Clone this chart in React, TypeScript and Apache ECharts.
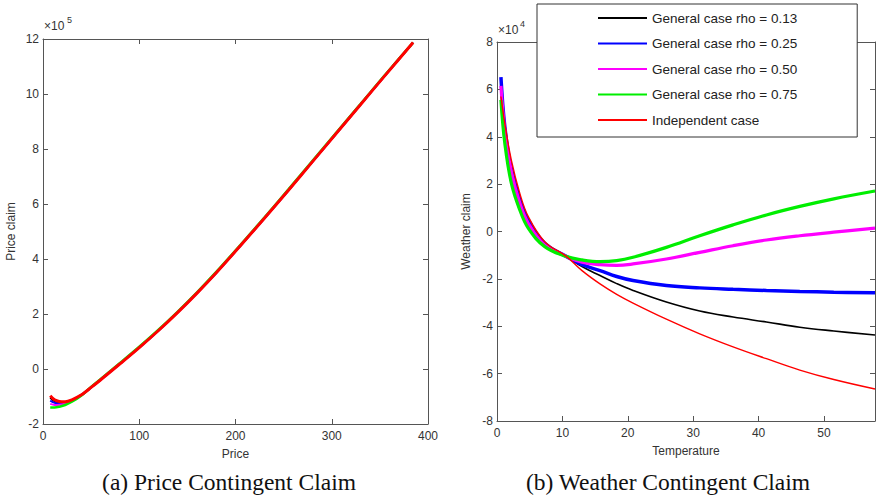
import React, { useEffect, useRef } from "react";
import * as echarts from "echarts";

// ---------- (a) Price contingent claim (values in units of 1e5) ----------
const priceX = [7.5, 12, 17, 23, 30, 40, 50, 60, 70, 80, 100, 120, 140, 160, 180, 205, 230, 255, 280, 305, 330, 355, 384.5];
const priceBlack = [-1.05, -1.17, -1.21, -1.21, -1.13, -0.94, -0.67, -0.39, -0.1, 0.19, 0.78, 1.4, 2.06, 2.76, 3.5, 4.48, 5.48, 6.5, 7.54, 8.58, 9.62, 10.66, 11.87];
const priceBlue = [-1.15, -1.23, -1.25, -1.23, -1.14, -0.94, -0.67, -0.39, -0.1, 0.19, 0.78, 1.4, 2.06, 2.76, 3.5, 4.48, 5.48, 6.5, 7.54, 8.58, 9.62, 10.66, 11.87];
const priceMagenta = [-1.27, -1.31, -1.3, -1.26, -1.16, -0.95, -0.67, -0.39, -0.1, 0.19, 0.78, 1.4, 2.06, 2.76, 3.5, 4.48, 5.48, 6.5, 7.54, 8.58, 9.62, 10.66, 11.87];
const priceGreen = [-1.4, -1.4, -1.37, -1.31, -1.19, -0.96, -0.65, -0.36, -0.07, 0.22, 0.81, 1.43, 2.09, 2.79, 3.53, 4.51, 5.51, 6.53, 7.57, 8.61, 9.64, 10.68, 11.87];
const priceRed = [-0.97, -1.12, -1.18, -1.19, -1.12, -0.94, -0.67, -0.39, -0.1, 0.19, 0.78, 1.4, 2.06, 2.76, 3.5, 4.48, 5.48, 6.5, 7.54, 8.58, 9.62, 10.66, 11.87];
const priceTicksX = [0, 100, 200, 300, 400];
const priceTicksY = [-2, 0, 2, 4, 6, 8, 10, 12];

// ---------- (b) Weather contingent claim (values in units of 1e4) ----------
const tempX = [0.6, 1.2, 2.2, 3.5, 4.8, 7.3, 10.65, 13, 15.75, 18.3, 20.8, 25.9, 31, 36.1, 41.2, 46.3, 51.5, 57.8];
const tempBlack = [5.9, 4.48, 2.8, 1.47, 0.55, -0.47, -1.06, -1.48, -1.86, -2.2, -2.49, -2.98, -3.36, -3.61, -3.82, -4.04, -4.2, -4.37];
const tempBlue = [6.52, 4.41, 2.59, 1.33, 0.48, -0.5, -1.06, -1.4, -1.65, -1.9, -2.07, -2.28, -2.38, -2.44, -2.49, -2.53, -2.56, -2.59];
const tempMagenta = [6.15, 4.27, 2.52, 1.19, 0.34, -0.57, -1.06, -1.3, -1.4, -1.43, -1.37, -1.16, -0.88, -0.6, -0.36, -0.18, -0.03, 0.14];
const tempGreen = [5.56, 3.71, 2.03, 0.9, 0.13, -0.64, -1.06, -1.2, -1.27, -1.23, -1.09, -0.67, -0.18, 0.28, 0.7, 1.06, 1.38, 1.71];
const tempRed = [5.7, 4.55, 3.0, 1.6, 0.62, -0.43, -1.06, -1.65, -2.21, -2.65, -3.02, -3.7, -4.32, -4.87, -5.37, -5.85, -6.25, -6.65];
const tempTicksX = [0, 10, 20, 30, 40, 50];
const tempTicksY = [-8, -6, -4, -2, 0, 2, 4, 6, 8];

const seriesNames = [
  "General case rho = 0.13",
  "General case rho = 0.25",
  "General case rho = 0.50",
  "General case rho = 0.75",
  "Independent case",
];
const seriesColors = ["#000000", "#0000ff", "#ff00ff", "#00ee00", "#ff0000"];

const pairs = (xs: number[], ys: number[]) => xs.map((x, i) => [x, ys[i]]);

const SANS = "Liberation Sans, Arial, Helvetica, sans-serif";
const AX = "#555";
const TXT = "#333";

export default function App() {
  const ref = useRef<HTMLDivElement>(null);
  useEffect(() => {
    if (!ref.current) return;
    const chart = echarts.init(ref.current, undefined, { renderer: "svg" });

    const axBase = (gridIndex: number, position: string, min: number, max: number, interval: number, show: boolean, extra: any = {}) => ({
      type: "value",
      gridIndex,
      position,
      min,
      max,
      interval,
      splitLine: { show: false },
      axisLine: { show: true, onZero: false, lineStyle: { color: AX, width: 1 } },
      axisTick: { show: true, inside: true, length: 5, lineStyle: { color: AX } },
      axisLabel: { show, color: TXT, fontSize: 12, fontFamily: SANS, margin: 6 },
      ...extra,
    });

    const priceSets = [priceBlack, priceBlue, priceMagenta, priceGreen, priceRed];
    const priceWidths = [2, 2, 2, 2.5, 3];
    const tempSets = [tempBlack, tempBlue, tempMagenta, tempGreen, tempRed];
    const tempWidths = [1.6, 3.5, 3.2, 3.2, 1.4];

    const series: any[] = [];
    priceSets.forEach((ys, i) => {
      series.push({
        name: seriesNames[i],
        type: "line",
        xAxisIndex: 0,
        yAxisIndex: 0,
        data: pairs(priceX, ys),
        symbol: "none",
        smooth: 0.3,
        lineStyle: { color: seriesColors[i], width: priceWidths[i] },
        itemStyle: { color: seriesColors[i] },
        z: 2 + i,
      });
    });
    tempSets.forEach((ys, i) => {
      series.push({
        name: seriesNames[i],
        type: "line",
        xAxisIndex: 2,
        yAxisIndex: 2,
        data: pairs(tempX, ys),
        symbol: "none",
        smooth: 0.4,
        lineStyle: { color: seriesColors[i], width: tempWidths[i] },
        itemStyle: { color: seriesColors[i] },
        z: 2 + i,
      });
    });

    chart.setOption({
      animation: false,
      backgroundColor: "#ffffff",
      grid: [
        { left: 43, top: 39, width: 385, height: 385, containLabel: false },
        { left: 497, top: 42, width: 378, height: 379, containLabel: false },
      ],
      xAxis: [
        axBase(0, "bottom", priceTicksX[0], priceTicksX[priceTicksX.length - 1], 100, true, {
          name: "Price",
          nameLocation: "middle",
          nameGap: 24,
          nameTextStyle: { color: TXT, fontSize: 12, fontFamily: SANS },
          axisLabel: { show: true, color: TXT, fontSize: 12, fontFamily: SANS, margin: 6 },
        }),
        axBase(0, "top", priceTicksX[0], priceTicksX[priceTicksX.length - 1], 100, false),
        axBase(1, "bottom", tempTicksX[0], 57.8, 10, true, {
          name: "Temperature",
          nameLocation: "middle",
          nameGap: 24,
          nameTextStyle: { color: TXT, fontSize: 12, fontFamily: SANS },
          axisLabel: {
            show: true,
            color: TXT,
            fontSize: 12,
            fontFamily: SANS,
            margin: 6,
            showMaxLabel: false,
            formatter: (v: number) => (tempTicksX.includes(v) ? String(v) : ""),
          },
        }),
        axBase(1, "top", tempTicksX[0], 57.8, 10, false),
      ],
      yAxis: [
        axBase(0, "left", priceTicksY[0], priceTicksY[priceTicksY.length - 1], 2, true, {
          name: "Price claim",
          nameLocation: "middle",
          nameGap: 26,
          nameRotate: 90,
          nameTextStyle: { color: TXT, fontSize: 12, fontFamily: SANS },
          axisLabel: { show: true, color: TXT, fontSize: 12, fontFamily: SANS, margin: 4 },
        }),
        axBase(0, "right", priceTicksY[0], priceTicksY[priceTicksY.length - 1], 2, false),
        axBase(1, "left", tempTicksY[0], tempTicksY[tempTicksY.length - 1], 2, true, {
          name: "Weather claim",
          nameLocation: "middle",
          nameGap: 25,
          nameRotate: 90,
          nameTextStyle: { color: TXT, fontSize: 12, fontFamily: SANS },
          axisLabel: { show: true, color: TXT, fontSize: 12, fontFamily: SANS, margin: 4 },
        }),
        axBase(1, "right", tempTicksY[0], tempTicksY[tempTicksY.length - 1], 2, false),
      ],
      legend: {
        data: seriesNames,
        orient: "vertical",
        left: 537,
        top: 4,
        padding: [7, 60, 10, 60],
        itemGap: 11.5,
        itemWidth: 49,
        itemHeight: 14,
        borderColor: "#333",
        borderWidth: 1,
        borderRadius: 0,
        backgroundColor: "#ffffff",
        selectedMode: false,
        itemStyle: { opacity: 0 },
        textStyle: { fontSize: 13.5, color: "#222", fontFamily: SANS },
        z: 10,
      },
      graphic: [
        { type: "text", left: 44, top: 20, style: { text: "×10", fontSize: 12, fontFamily: SANS, fill: TXT } },
        { type: "text", left: 67, top: 15, style: { text: "5", fontSize: 9, fontFamily: SANS, fill: TXT } },
        { type: "text", left: 498, top: 24, style: { text: "×10", fontSize: 12, fontFamily: SANS, fill: TXT }, z: 1 },
        { type: "text", left: 520, top: 19, style: { text: "4", fontSize: 9, fontFamily: SANS, fill: TXT }, z: 1 },
        {
          type: "text",
          x: 229,
          y: 482,
          style: {
            text: "(a) Price Contingent Claim",
            fontSize: 23.5,
            fontFamily: "Liberation Serif, Times New Roman, serif",
            fill: "#111",
            align: "center",
            verticalAlign: "middle",
          },
        },
        {
          type: "text",
          x: 668,
          y: 482,
          style: {
            text: "(b) Weather Contingent Claim",
            fontSize: 23.5,
            fontFamily: "Liberation Serif, Times New Roman, serif",
            fill: "#111",
            align: "center",
            verticalAlign: "middle",
          },
        },
      ],
      series,
    });

    return () => chart.dispose();
  }, []);

  return (
    <div
      ref={ref}
      style={{ position: "fixed", left: 0, top: 0, width: 880, height: 499, background: "#fff" }}
    />
  );
}
